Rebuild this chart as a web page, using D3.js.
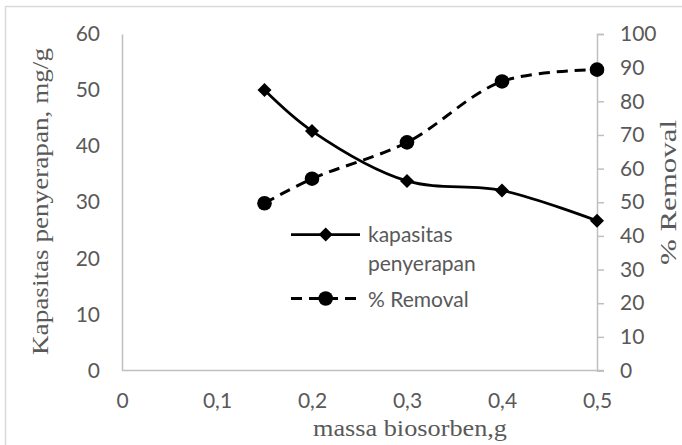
<!DOCTYPE html>
<html>
<head>
<meta charset="utf-8">
<script src="https://cdn.jsdelivr.net/npm/d3@7"></script>
<style>
  html, body { margin: 0; padding: 0; background: #fff; }
  svg { display: block; }
</style>
</head>
<body>
<div id="chart"></div>
<script>
// Biosorbent mass vs. adsorption capacity and % removal
const massa = [0.15, 0.2, 0.3, 0.4, 0.5];
const kapasitas = [50, 42.7, 33.8, 32.1, 26.7];
const removal = [49.7, 57.0, 67.8, 85.9, 89.4];

const xTicks = [0, 0.1, 0.2, 0.3, 0.4, 0.5];
const yLeftTicks = [0, 10, 20, 30, 40, 50, 60];
const yRightTicks = [0, 10, 20, 30, 40, 50, 60, 70, 80, 90, 100];

const seriesNames = ["kapasitas penyerapan", "% Removal"];

const W = 682, H = 445;
const plot = { left: 122, right: 597, top: 34, bottom: 370.5 };
const axisColor = "#bfbfbf";
const textColor = "#595959";
const tickFont = "Lato, 'Open Sans', sans-serif";
const titleFont = "'Liberation Serif', 'Times New Roman', serif";

const svg = d3.select("#chart").append("svg")
  .attr("width", W).attr("height", H);

// chart border
svg.append("rect")
  .attr("x", 5.5).attr("y", 6.5)
  .attr("width", 720).attr("height", 520)
  .attr("fill", "none").attr("stroke", "#d9d9d9").attr("stroke-width", 1.5);

const x = d3.scaleLinear().domain([0, 0.5]).range([plot.left, plot.right]);
const yL = d3.scaleLinear().domain([0, 60]).range([plot.bottom, plot.top]);
const yR = d3.scaleLinear().domain([0, 100]).range([plot.bottom, plot.top]);

const commaFmt = d => String(d).replace(".", ",");

// baseline along the bottom of the plot
svg.append("line")
  .attr("x1", plot.left).attr("x2", plot.right + 7)
  .attr("y1", plot.bottom).attr("y2", plot.bottom)
  .attr("stroke", axisColor).attr("stroke-width", 1.5);

// left axis
const gL = svg.append("g")
  .attr("transform", `translate(${plot.left},0)`)
  .call(d3.axisLeft(yL).tickValues(yLeftTicks).tickSize(0).tickSizeOuter(0).tickPadding(22));

// right axis
const gR = svg.append("g")
  .attr("transform", `translate(${plot.right},0)`)
  .call(d3.axisRight(yR).tickValues(yRightTicks).tickSize(7).tickSizeOuter(7).tickPadding(16));

// bottom axis (labels only)
const gB = svg.append("g")
  .attr("transform", `translate(0,${plot.bottom})`)
  .call(d3.axisBottom(x).tickValues(xTicks).tickFormat(commaFmt).tickSize(0).tickPadding(23));
gB.select(".domain").remove();

[gL, gR, gB].forEach(g => {
  g.select(".domain").attr("stroke", axisColor).attr("stroke-width", 1.5);
  g.selectAll(".tick line").attr("stroke", axisColor).attr("stroke-width", 1.5);
  g.selectAll(".tick text")
    .attr("fill", textColor)
    .style("font-family", tickFont)
    .style("font-size", "21px");
});

// series curves
const lineK = d3.line()
  .x((d, i) => x(massa[i]))
  .y(d => yL(d))
  .curve(d3.curveCatmullRom.alpha(0.5));
const lineR = d3.line()
  .x((d, i) => x(massa[i]))
  .y(d => yR(d))
  .curve(d3.curveCatmullRom.alpha(0.5));

svg.append("path").datum(kapasitas)
  .attr("d", lineK)
  .attr("fill", "none").attr("stroke", "#000").attr("stroke-width", 2.75);

svg.append("path").datum(removal)
  .attr("d", lineR)
  .attr("fill", "none").attr("stroke", "#000").attr("stroke-width", 3)
  .attr("stroke-dasharray", "11,7");

// diamond marker drawn as a square rotated 45 degrees
const diamondType = {
  draw(ctx, size) {
    const r = Math.sqrt(size) / 2;
    ctx.moveTo(0, -r); ctx.lineTo(r, 0); ctx.lineTo(0, r); ctx.lineTo(-r, 0); ctx.closePath();
  }
};
const diamond = d3.symbol().type(diamondType).size(196);

svg.append("g").selectAll("path")
  .data(kapasitas)
  .join("path")
  .attr("transform", (d, i) => `translate(${x(massa[i])},${yL(d)})`)
  .attr("d", diamond)
  .attr("fill", "#000");

svg.append("g").selectAll("circle")
  .data(removal)
  .join("circle")
  .attr("cx", (d, i) => x(massa[i]))
  .attr("cy", d => yR(d))
  .attr("r", 7.3)
  .attr("fill", "#000");

// legend
const leg = svg.append("g");
leg.append("line")
  .attr("x1", 291).attr("x2", 360).attr("y1", 234.5).attr("y2", 234.5)
  .attr("stroke", "#000").attr("stroke-width", 2.75);
leg.append("path")
  .attr("transform", "translate(325.7,234.5)")
  .attr("d", diamond).attr("fill", "#000");
const t1 = leg.append("text")
  .attr("x", 368).attr("y", 241.5)
  .attr("fill", textColor)
  .style("font-family", tickFont).style("font-size", "21px");
t1.append("tspan").attr("x", 368).text(seriesNames[0].split(" ")[0]);
t1.append("tspan").attr("x", 368).attr("dy", 29).text(seriesNames[0].split(" ")[1]);

leg.append("line")
  .attr("x1", 291).attr("x2", 356).attr("y1", 298.5).attr("y2", 298.5)
  .attr("stroke", "#000").attr("stroke-width", 3)
  .attr("stroke-dasharray", "11,7");
leg.append("circle")
  .attr("cx", 325.7).attr("cy", 298.5).attr("r", 7.3).attr("fill", "#000");
leg.append("text")
  .attr("x", 368).attr("y", 306.5)
  .attr("fill", textColor)
  .style("font-family", tickFont).style("font-size", "21px")
  .text(seriesNames[1]);

// axis titles
svg.append("text")
  .attr("transform", "translate(48,201.5) rotate(-90)")
  .attr("text-anchor", "middle")
  .attr("fill", textColor)
  .attr("textLength", 307).attr("lengthAdjust", "spacingAndGlyphs")
  .style("font-family", titleFont).style("font-size", "23px")
  .text("Kapasitas  penyerapan,  mg/g");

svg.append("text")
  .attr("transform", "translate(676,192.5) rotate(-90)")
  .attr("text-anchor", "middle")
  .attr("fill", textColor)
  .attr("textLength", 145).attr("lengthAdjust", "spacingAndGlyphs")
  .style("font-family", titleFont).style("font-size", "24px")
  .text("% Removal");

svg.append("text")
  .attr("x", 410).attr("y", 436)
  .attr("text-anchor", "middle")
  .attr("fill", textColor)
  .attr("textLength", 194).attr("lengthAdjust", "spacingAndGlyphs")
  .style("font-family", titleFont).style("font-size", "24px")
  .text("massa biosorben,g");
</script>
</body>
</html>
